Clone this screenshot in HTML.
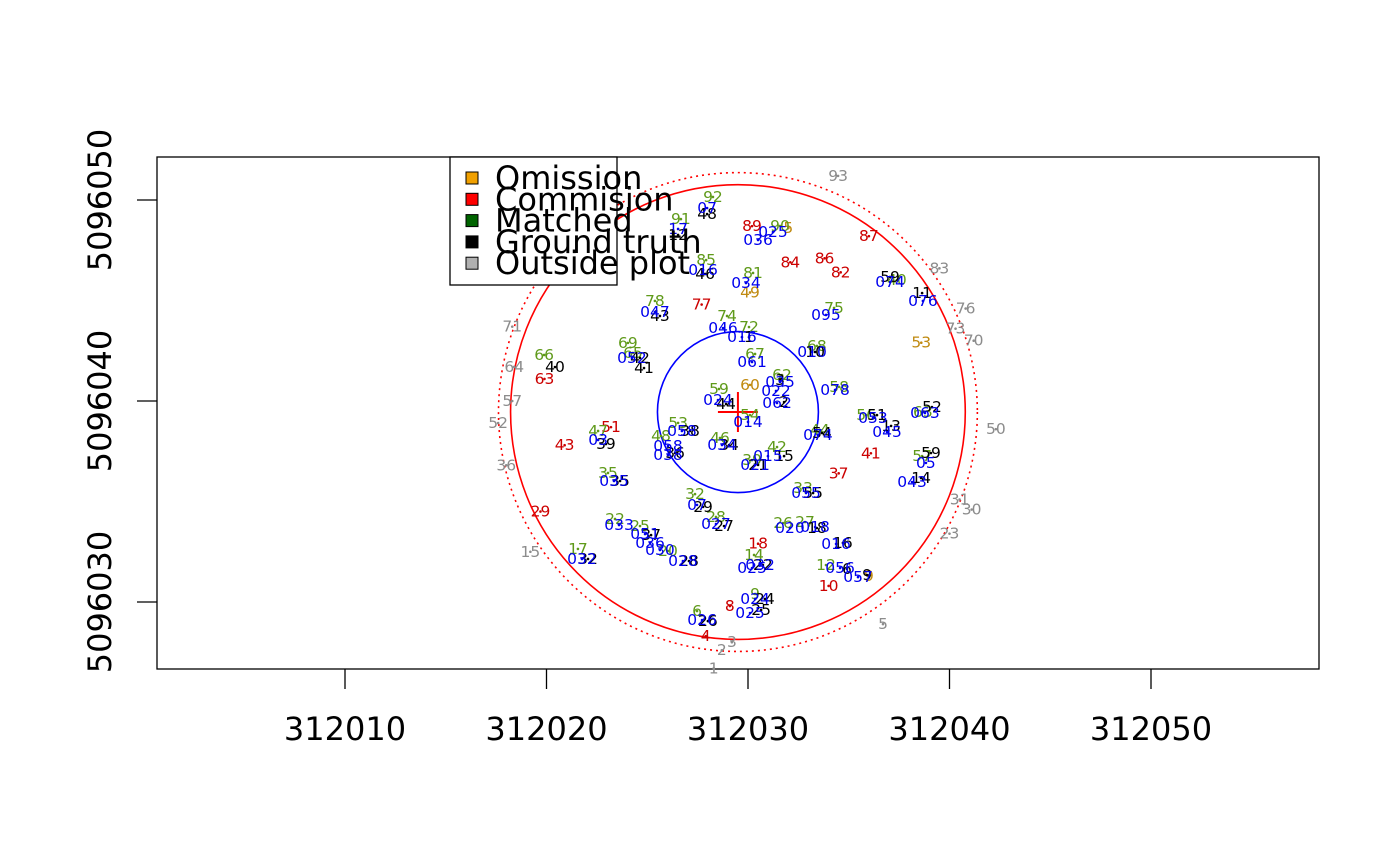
<!DOCTYPE html>
<html><head><meta charset="utf-8"><style>
body{margin:0;background:#fff}
svg{display:block;font-family:"DejaVu Sans","Liberation Sans",sans-serif}
</style></head><body>
<svg id="chart" width="1400" height="866"></svg>
<script>
// axis values: offsets from easting 312000 / northing 5096000
const xTicks=[10,20,30,40,50];
const yTicks=[30,40,50];
const center=[29.5,39.45];
const radii=[4,11.3];
const dottedRadius=11.9;
// tree eastings below are offsets from 312010
const greyLabels=["93","83","76","73","70","71","64","57","52","36","50","31","30","23","15","5","3","2","1"];
const greyX=[24.47,29.5,30.8,30.3,31.2,8.3,8.4,8.3,7.6,8.0,32.3,30.5,31.1,30.0,9.2,26.7,19.2,18.7,18.3];
const greyY=[51.2,46.6,44.6,43.6,43.0,43.7,41.7,40.0,38.9,36.8,38.6,35.1,34.6,33.4,32.5,28.9,28.0,27.6,26.7];
const redLabels=["89","87","84","86","82","77","63","51","43","41","37","29","18","10","8","4"];
const redX=[20.2,26.0,22.1,23.8,24.6,17.7,9.9,13.2,10.9,26.1,24.5,9.7,20.5,24.0,19.1,17.9];
const redY=[48.7,48.2,46.9,47.1,46.4,44.8,41.1,38.7,37.8,37.4,36.4,34.5,32.9,30.8,29.8,28.3];
const orangeLabels=["60","53","49","5","9"];
const orangeX=[20.1,28.6,20.1,22.0,26.0];
const orangeY=[40.8,42.9,45.4,48.6,31.3];
const greenLabels=["92","91","85","81","78","75","74","72","69","66","65","68","67","62","59","58","56","53","54","47","48","46","42","44","35","39","32","33","28","26","27","22","25","20","17","14","12","9","6","90","40","63","57"];
const greenX=[18.26,16.67,17.92,20.25,15.38,24.27,18.96,20.05,14.04,9.88,14.29,23.42,20.35,21.69,18.56,24.52,25.86,16.53,20.10,12.56,15.68,18.61,21.44,23.57,13.05,20.20,17.37,22.73,18.41,21.74,22.83,13.40,14.64,16.03,11.56,20.30,23.87,20.35,17.47,21.59,27.39,28.68,28.64];
const greenY=[50.15,49.05,47.01,46.37,44.98,44.63,44.23,43.68,42.89,42.29,42.39,42.74,42.34,41.29,40.60,40.70,39.30,38.91,39.30,38.51,38.26,38.16,37.71,38.56,36.42,37.06,35.37,35.67,34.23,33.93,33.98,34.13,33.78,32.54,32.64,32.34,31.84,30.40,29.55,48.71,46.02,39.45,37.26];
const blackLabels=["48","46","43","40","42","41","44","39","36","35","34","29","27","26","28","21","15","25","24","22","16","18","14","13","11","54","51","55","9","6","52","59","38","37","32","10","1","3","2","12","59"];
const blackX=[17.97,17.87,15.63,10.42,14.64,14.84,18.91,12.95,16.38,13.65,19.06,17.77,18.81,18.01,17.07,20.50,21.79,20.65,20.84,20.74,24.71,23.42,28.59,27.10,28.64,23.67,26.40,23.23,25.91,24.91,29.13,29.08,17.12,15.19,12.06,23.33,20.05,21.59,21.79,16.53,27.05];
const blackY=[49.30,46.32,44.23,41.69,42.14,41.64,39.85,37.86,37.41,36.02,37.81,34.73,33.78,29.05,32.04,36.82,37.26,29.60,30.15,31.84,32.94,33.68,36.17,38.76,45.37,38.41,39.30,35.42,31.34,31.64,39.70,37.41,38.51,33.33,32.14,42.44,43.18,41.04,39.95,48.26,46.17];
const blueLabels=["07","17","036","025","016","034","074","076","047","046","016","061","010","095","052","024","022","062","035","078","014","053","045","063","074","058","03","058","038","034","015","021","05","043","035","055","07","027","033","051","036","030","028","032","020","018","016","025","032","056","057","024","025","026"];
const blueX=[17.97,16.53,20.50,21.24,17.77,19.90,27.05,28.68,15.38,18.76,19.70,20.20,23.18,23.87,14.24,18.51,21.39,21.44,21.59,24.32,20.00,26.20,26.90,28.78,23.47,16.72,12.56,16.03,16.03,18.71,20.99,20.35,28.83,28.14,13.35,22.88,17.47,18.41,13.60,14.89,15.14,15.63,16.77,11.76,22.08,23.33,24.37,20.20,20.60,24.57,25.46,20.35,20.10,17.72];
const blueY=[49.60,48.56,48.01,48.41,46.52,45.87,45.92,44.98,44.43,43.63,43.18,41.94,42.44,44.28,42.14,40.05,40.50,39.90,40.95,40.55,38.96,39.15,38.46,39.40,38.31,38.51,38.06,37.76,37.31,37.81,37.26,36.82,36.92,35.97,36.02,35.42,34.83,33.88,33.83,33.38,32.94,32.59,32.04,32.14,33.68,33.73,32.89,31.69,31.84,31.69,31.24,30.15,29.45,29.10];
const legendLabels=["Omission","Commision","Matched","Ground truth","Outside plot"];
const legendColors=["#f0a000","#ff0000","#006400","#000000","#b0b0b0"];
const TREE_X_BASE=10;

const NS="http://www.w3.org/2000/svg";
const svg=document.getElementById('chart');
function X(v){return 345+(v-10)*20.15;}
function Y(v){return 401-(v-40)*20.1;}
function S(v){return v*20.12;}
function mk(t,a,txt){const e=document.createElementNS(NS,t);for(const k in a)e.setAttribute(k,a[k]);if(txt!==undefined)e.textContent=txt;svg.appendChild(e);return e;}

let e=mk('rect',{x:157,y:157,width:1162,height:512,fill:'none',stroke:'#000','stroke-width':1.3});

xTicks.forEach(t=>{
 let l=mk('line',{x1:X(t),x2:X(t),y1:669,y2:689,stroke:'#000','stroke-width':1.3});
 
 let s=mk('text',{x:X(t),y:740,'font-size':32,'text-anchor':'middle'},String(312000+t));
 
});
yTicks.forEach(t=>{
 let l=mk('line',{x1:137,x2:157,y1:Y(t),y2:Y(t),stroke:'#000','stroke-width':1.3});
 
 let s=mk('text',{x:111,y:Y(t),'font-size':32,'text-anchor':'middle',transform:`rotate(-90 111 ${Y(t)})`},String(5096000+t));
 
});
const cx=X(center[0]),cy=Y(center[1]);
radii.forEach((r,i)=>{
 let c=mk('circle',{cx:cx,cy:cy,r:S(r),fill:'none',stroke:i==0?'#0000ff':'#ff0000','stroke-width':1.6});
 
});
e=mk('circle',{cx:cx,cy:cy,r:S(dottedRadius),fill:'none',stroke:'#ff0000','stroke-width':1.6,'stroke-dasharray':'2 4'});

e=mk('path',{d:`M${cx-20} ${cy}H${cx+20}M${cx} ${cy-20}V${cy+20}`,stroke:'#ff0000','stroke-width':2});


function layer(labels,xs,ys,col,name){
 labels.forEach((lab,i)=>{
  const px=X(xs[i]+TREE_X_BASE),py=Y(ys[i]);
  let t=mk('text',{x:px,y:py+5,'font-size':15.5,'text-anchor':'middle',fill:col},lab);
  
  let d=mk('circle',{cx:px,cy:py,r:1.3,fill:col});
  
 });
}
layer(greyLabels,greyX,greyY,'#8c8c8c','outside-tree');
layer(redLabels,redX,redY,'#cc0000','commission-tree');
layer(orangeLabels,orangeX,orangeY,'#c08a10','omission-tree');
layer(greenLabels,greenX,greenY,'#5f9a1a','matched-tree');
layer(blackLabels,blackX,blackY,'#000000','ground-truth-tree');
layer(blueLabels,blueX,blueY,'#0000ee','detection-id');

e=mk('rect',{x:450,y:157,width:167,height:128,fill:'#fff',stroke:'#000','stroke-width':1.3});

legendLabels.forEach((lab,i)=>{
 const y=178+i*21.3;
 let r=mk('rect',{x:466,y:y-6,width:12,height:12,fill:legendColors[i],stroke:'#000','stroke-width':1});
 
 let t=mk('text',{x:495,y:y+11,'font-size':32},lab);
 
});
</script>
</body></html>
